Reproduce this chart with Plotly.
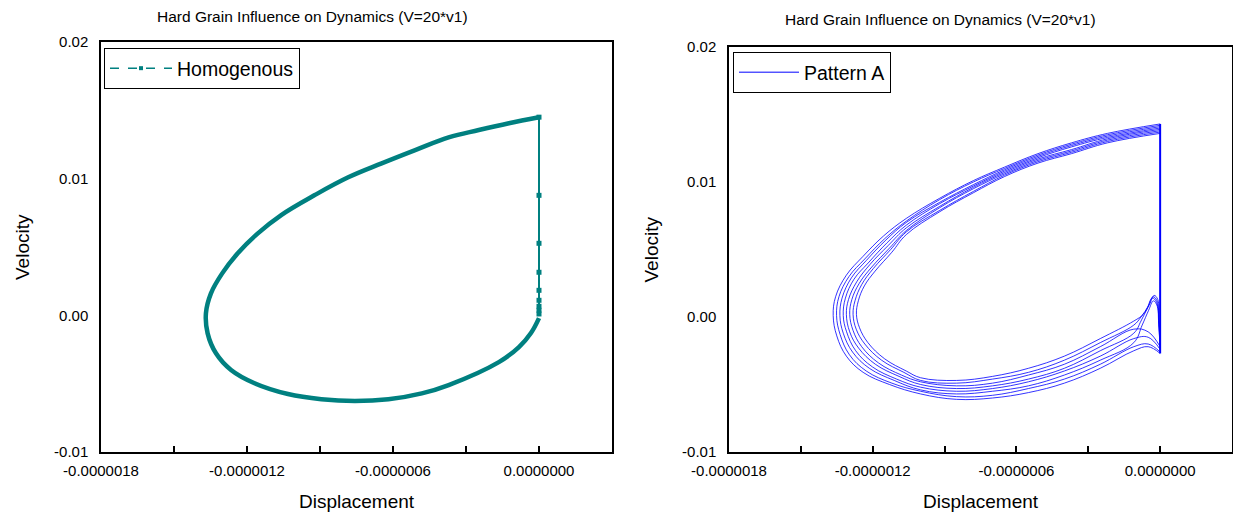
import plotly.graph_objects as go

# ---------------- data (x in micro-units, scaled by X_UNIT) ----------------
X_UNIT = 1e-6

# Left panel: homogeneous limit cycle (lower branch from x=0 leftwards, then upper branch back to x=0)
homog_loop_x = [0.0, -0.033, -0.0825, -0.165, -0.3714, -0.4816, -0.619, -0.7564, -0.8942, -1.0316,
                -1.1691, -1.2656, -1.3275, -1.3618, -1.3688, -1.3482, -1.302, -1.238, -1.1554,
                -1.0593, -0.9215, -0.784, -0.6466, -0.5088, -0.3714, -0.2476, -0.1238, 0.0]
homog_loop_v = [-0.0002, -0.00129, -0.00232, -0.00342, -0.0051, -0.00571, -0.00614, -0.00627, -0.00614, -0.00576,
                -0.00497, -0.004, -0.00278, -0.00132, 0.00015, 0.00161, 0.00307, 0.00454, 0.006,
                0.00734, 0.0088, 0.0101, 0.01112, 0.01209, 0.01302, 0.01356, 0.01406, 0.0145]
# fast drop at x = 0 (sampled points)
homog_drop_x = [0.0, 0.0, 0.0, 0.0, 0.0, 0.0, 0.0, 0.0, 0.0]
homog_drop_v = [0.0145, 0.00878, 0.00527, 0.00315, 0.00183, 0.0011, 0.00066, 0.00037, 0.0001]

# Right panel: Pattern A, several cycles (each starts at the bottom of the drop at x = 0)
pattern_a_x = [
    [0, -0.05, -0.11, -0.25, -0.40, -0.55, -0.70, -0.85, -1.00, -1.13, -1.24, -1.31, -1.35, -1.365, -1.355,
     -1.31, -1.24, -1.155, -1.06, -0.92, -0.78, -0.65, -0.51, -0.37, -0.22, 0],
    [0, -0.05, -0.11, -0.25, -0.40, -0.55, -0.70, -0.85, -1.00, -1.12, -1.227, -1.297, -1.336, -1.351, -1.341,
     -1.299, -1.233, -1.15, -1.06, -0.92, -0.78, -0.65, -0.51, -0.37, -0.22, 0],
    [0, -0.005, -0.012, -0.028, -0.048, -0.075, -0.11, -0.25, -0.40, -0.55, -0.70, -0.85, -1.00, -1.11, -1.214,
     -1.284, -1.323, -1.337, -1.328, -1.289, -1.226, -1.145, -1.06, -0.92, -0.78, -0.65, -0.51, -0.37, -0.22, 0],
    [0, -0.05, -0.11, -0.25, -0.40, -0.55, -0.70, -0.85, -1.00, -1.10, -1.201, -1.271, -1.309, -1.323, -1.314,
     -1.278, -1.219, -1.14, -1.06, -0.92, -0.78, -0.65, -0.51, -0.37, -0.22, 0],
    [0, -0.006, -0.015, -0.033, -0.055, -0.08, -0.11, -0.25, -0.40, -0.55, -0.70, -0.85, -1.00, -1.09, -1.189,
     -1.259, -1.296, -1.310, -1.301, -1.267, -1.211, -1.135, -1.06, -0.92, -0.78, -0.65, -0.51, -0.37, -0.22, 0],
    [0, -0.05, -0.11, -0.25, -0.40, -0.55, -0.70, -0.85, -1.00, -1.08, -1.176, -1.246, -1.282, -1.296, -1.287,
     -1.256, -1.204, -1.13, -1.06, -0.92, -0.78, -0.65, -0.51, -0.37, -0.22, 0],
    [0, -0.005, -0.013, -0.03, -0.05, -0.08, -0.11, -0.25, -0.40, -0.55, -0.70, -0.85, -1.00, -1.07, -1.163,
     -1.233, -1.269, -1.282, -1.274, -1.246, -1.197, -1.125, -1.06, -0.92, -0.78, -0.65, -0.51, -0.37, -0.22, 0],
    [0, -0.004, -0.01, -0.025, -0.045, -0.07, -0.11, -0.25, -0.40, -0.55, -0.70, -0.85, -1.00, -1.06, -1.15,
     -1.22, -1.255, -1.268, -1.26, -1.235, -1.19, -1.12, -1.06, -0.92, -0.78, -0.65, -0.51, -0.37, -0.22, 0],
]
pattern_a_v = [
    [-0.0027, -0.0022, -0.0025, -0.0038, -0.0049, -0.0056, -0.0060, -0.0061, -0.0057, -0.0050, -0.0041, -0.0029,
     -0.0014, 0.0001, 0.0015, 0.0031, 0.0045, 0.0060, 0.0073, 0.0088, 0.0101, 0.0111, 0.0121, 0.0129, 0.0136, 0.0143],
    [-0.0026, -0.0020, -0.0022, -0.0035, -0.0046, -0.0053, -0.0058, -0.0059, -0.0055, -0.0049, -0.0040, -0.0028,
     -0.0013, 0.0001, 0.0015, 0.0030, 0.0043, 0.0058, 0.0071, 0.0087, 0.0100, 0.0110, 0.0120, 0.0128, 0.0135, 0.0142],
    [-0.0025, -0.0008, 0.0008, 0.0012, 0.0005, -0.0006, -0.0019, -0.0032, -0.0043, -0.0051, -0.0055, -0.0057,
     -0.0054, -0.0047, -0.0038, -0.0026, -0.0012, 0.0001, 0.0014, 0.0029, 0.0042, 0.0057, 0.0070, 0.0085, 0.0098,
     0.0109, 0.0119, 0.0127, 0.0134, 0.0141],
    [-0.0024, -0.0015, -0.0016, -0.0029, -0.0040, -0.0048, -0.0053, -0.0055, -0.0052, -0.0046, -0.0037, -0.0025,
     -0.0011, 0.0001, 0.0014, 0.0028, 0.0040, 0.0055, 0.0068, 0.0084, 0.0097, 0.0108, 0.0118, 0.0126, 0.0133, 0.0140],
    [-0.0023, -0.0005, 0.0011, 0.0014, 0.0006, -0.0003, -0.0012, -0.0025, -0.0038, -0.0046, -0.0051, -0.0053,
     -0.0050, -0.0044, -0.0035, -0.0023, -0.0011, 0.0002, 0.0013, 0.0026, 0.0039, 0.0053, 0.0066, 0.0082, 0.0096,
     0.0107, 0.0117, 0.0124, 0.0132, 0.0139],
    [-0.0022, -0.0011, -0.0009, -0.0022, -0.0035, -0.0043, -0.0049, -0.0051, -0.0048, -0.0043, -0.0034, -0.0022,
     -0.0010, 0.0002, 0.0013, 0.0025, 0.0037, 0.0051, 0.0064, 0.0081, 0.0095, 0.0106, 0.0116, 0.0123, 0.0131, 0.0138],
    [-0.0021, -0.0004, 0.0012, 0.0015, 0.0008, 0.0000, -0.0006, -0.0019, -0.0032, -0.0041, -0.0046, -0.0049,
     -0.0047, -0.0041, -0.0032, -0.0020, -0.0009, 0.0002, 0.0012, 0.0024, 0.0036, 0.0050, 0.0063, 0.0079, 0.0093,
     0.0105, 0.0115, 0.0122, 0.0130, 0.0137],
    [-0.0020, -0.0003, 0.0013, 0.0016, 0.0009, 0.0002, -0.0003, -0.0016, -0.0029, -0.0038, -0.0044, -0.0047,
     -0.0045, -0.0040, -0.0031, -0.0019, -0.0008, 0.0002, 0.0012, 0.0023, 0.0034, 0.0048, 0.0061, 0.0078, 0.0092,
     0.0104, 0.0114, 0.0121, 0.0129, 0.0136],
]
pattern_a_drop_x = [0.0, 0.0]
pattern_a_drop_v = [0.0143, -0.0027]

# axis ticks
x_tick_vals = [-1.8e-6, -1.2e-6, -0.6e-6, 0.0]
x_tick_text = ["-0.0000018", "-0.0000012", "-0.0000006", "0.0000000"]
x_minor_vals = [-1.5e-6, -0.9e-6, -0.3e-6, 0.3e-6]
y_tick_vals = [-0.01, 0.0, 0.01, 0.02]
y_tick_text = ["-0.01", "0.00", "0.01", "0.02"]

TITLE = "Hard Grain Influence on Dynamics (V=20*v1)"
TEAL = "#008080"
BLUE = "#0000FF"
FONT = "Liberation Sans, Arial, sans-serif"

W, H = 1233, 517

def sx(vals):
    return [v * X_UNIT for v in vals]

fig = go.Figure()

# ---- left panel ----
fig.add_trace(go.Scatter(x=sx(homog_loop_x), y=homog_loop_v, mode="lines",
                         line=dict(color=TEAL, width=4.5, shape="spline", smoothing=1.1),
                         xaxis="x", yaxis="y", showlegend=False, hoverinfo="skip"))
fig.add_trace(go.Scatter(x=sx(homog_drop_x), y=homog_drop_v, mode="lines+markers",
                         line=dict(color=TEAL, width=2),
                         marker=dict(symbol="square", size=5, color=TEAL),
                         xaxis="x", yaxis="y", showlegend=False, hoverinfo="skip"))
fig.add_trace(go.Scatter(x=[None], y=[None], mode="lines+markers", name="Homogenous",
                         line=dict(color=TEAL, width=1.5, dash="dash"),
                         marker=dict(symbol="square", size=4, color=TEAL),
                         xaxis="x", yaxis="y", legend="legend"))

# ---- right panel ----
for cx, cv in zip(pattern_a_x, pattern_a_v):
    fig.add_trace(go.Scatter(x=sx(cx), y=cv, mode="lines",
                             line=dict(color=BLUE, width=0.8, shape="spline", smoothing=1.1),
                             xaxis="x2", yaxis="y2", showlegend=False, hoverinfo="skip"))
fig.add_trace(go.Scatter(x=sx(pattern_a_drop_x), y=pattern_a_drop_v, mode="lines",
                         line=dict(color=BLUE, width=2),
                         xaxis="x2", yaxis="y2", showlegend=False, hoverinfo="skip"))
fig.add_trace(go.Scatter(x=[None], y=[None], mode="lines", name="Pattern A",
                         line=dict(color=BLUE, width=1),
                         xaxis="x2", yaxis="y2", legend="legend2"))

# ---- layout ----
Lx0, Lx1 = 101 / W, 612 / W
Rx0, Rx1 = 729 / W, 1232 / W
Ly0, Ly1 = 1 - 452 / H, 1 - 42 / H
Ry0, Ry1 = 1 - 452 / H, 1 - 47 / H

def xaxis(domain, anchor):
    return dict(domain=domain, anchor=anchor, range=[-1.8e-6, 0.3e-6], automargin=False,
                tickmode="array", tickvals=x_tick_vals, ticktext=x_tick_text,
                ticks="inside", ticklen=6, tickwidth=1.5, tickcolor="black",
                minor=dict(tickmode="array", tickvals=x_minor_vals, ticks="inside",
                           ticklen=6, tickwidth=1.5, tickcolor="black", showgrid=False),
                showline=True, mirror=True, linecolor="black", linewidth=1.5,
                showgrid=False, zeroline=False,
                tickfont=dict(family=FONT, size=15, color="black"), ticklabelstandoff=4)

def yaxis(domain, anchor):
    return dict(domain=domain, anchor=anchor, range=[-0.01, 0.02], automargin=False,
                tickmode="array", tickvals=y_tick_vals, ticktext=y_tick_text,
                ticks="", showline=True, mirror=True, linecolor="black", linewidth=1.5,
                showgrid=False, zeroline=False,
                tickfont=dict(family=FONT, size=15, color="black"), ticklabelstandoff=8)

ann = []
for cx, cy, text, size, angle in [
    (312 / W, 1 - 17 / H, TITLE, 15.5, 0),
    (940 / W, 1 - 20 / H, TITLE, 15.5, 0),
    ((Lx0 + Lx1) / 2, 1 - 501 / H, "Displacement", 19, 0),
    ((Rx0 + Rx1) / 2, 1 - 501 / H, "Displacement", 19, 0),
    (22 / W, (Ly0 + Ly1) / 2, "Velocity", 19, -90),
    (651 / W, (Ry0 + Ry1) / 2, "Velocity", 19, -90),
]:
    ann.append(dict(x=cx, y=cy, xref="paper", yref="paper", text=text, showarrow=False,
                    xanchor="center", yanchor="middle", textangle=angle,
                    font=dict(family=FONT, size=size, color="black")))

fig.update_layout(
    width=W, height=H, margin=dict(l=0, r=0, t=0, b=0, autoexpand=False),
    paper_bgcolor="white", plot_bgcolor="white",
    font=dict(family=FONT, color="black"),
    xaxis=xaxis([Lx0, Lx1], "y"), yaxis=yaxis([Ly0, Ly1], "x"),
    xaxis2=xaxis([Rx0, Rx1], "y2"), yaxis2=yaxis([Ry0, Ry1], "x2"),
    legend=dict(x=104 / W, y=1 - 48 / H, xanchor="left", yanchor="top",
                bordercolor="black", borderwidth=1, bgcolor="white",
                font=dict(family=FONT, size=19.5, color="black"), itemwidth=62),
    legend2=dict(x=733 / W, y=1 - 52 / H, xanchor="left", yanchor="top",
                 bordercolor="black", borderwidth=1, bgcolor="white",
                 font=dict(family=FONT, size=19.5, color="black"), itemwidth=60),
    annotations=ann,
)

fig.write_html("out.html")
